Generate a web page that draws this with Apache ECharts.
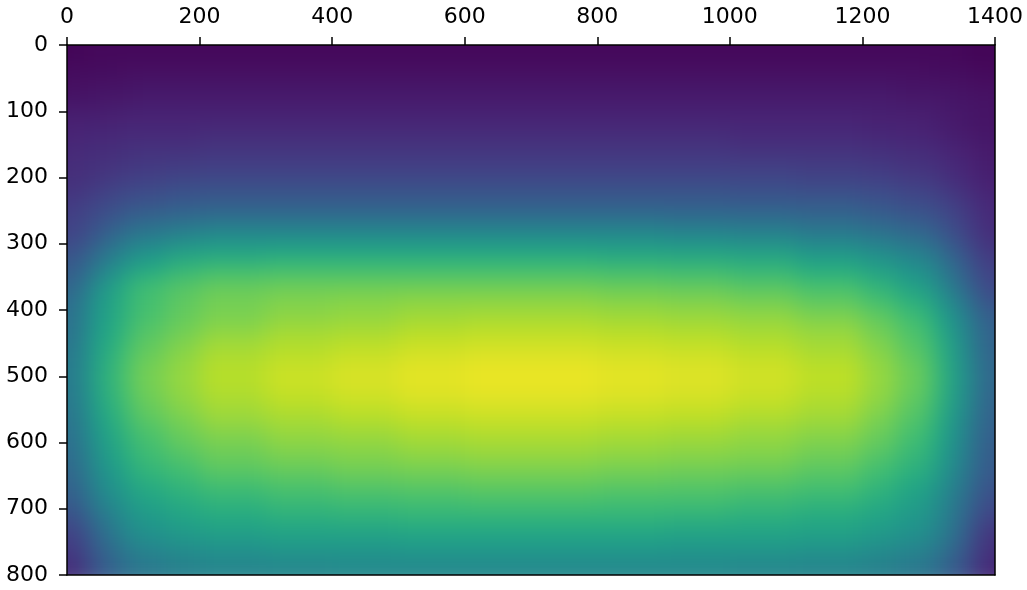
<!DOCTYPE html>
<html>
<head>
<meta charset="utf-8">
<script src="https://cdn.jsdelivr.net/npm/echarts@6/dist/echarts.min.js"></script>
<style>
  html, body { margin: 0; padding: 0; background: #fff; }
  #wrap { position: relative; width: 1027px; height: 590px; }
  /* the image layer is softened like matplotlib's interpolated imshow and clipped to the plot box */
  #clip { position: absolute; left: 67px; top: 45px; width: 928px; height: 530px; overflow: hidden; }
  #heat { position: absolute; left: -67px; top: -45px; width: 1027px; height: 590px; filter: blur(11px); }
  #chart { position: absolute; left: 0; top: 0; width: 1027px; height: 590px; }
</style>
</head>
<body>
<div id="wrap">
  <div id="clip"><div id="heat"></div></div>
  <div id="chart"></div>
</div>
<script>
// bin edges of the image (pixel columns / rows of the data)
const xEdges = [0, 25, 50, 75, 100, 150, 200, 300, 400, 500, 600, 700, 800, 900,
  1000, 1100, 1200, 1250, 1300, 1325, 1350, 1375, 1400];
const yEdges = [0, 25, 50, 75, 100, 125, 150, 175, 200, 225, 250, 275, 300, 325,
  350, 375, 400, 425, 450, 475, 500, 525, 550, 575, 600, 625, 650, 675, 700,
  725, 750, 775, 800];
const xTicks = [0, 200, 400, 600, 800, 1000, 1200, 1400];
const yTicks = [0, 100, 200, 300, 400, 500, 600, 700, 800];

// intensity (0-100), one row per y bin, one value per x bin
const intensity = [
  [1, 2, 2, 2, 2, 2, 2, 2, 2, 2, 2, 2, 2, 2, 2, 2, 2, 2, 2, 2, 1, 1],
  [3, 3, 3, 4, 4, 4, 4, 4, 4, 4, 4, 4, 4, 4, 4, 4, 4, 4, 3, 3, 3, 2],
  [4, 5, 5, 5, 6, 6, 6, 6, 6, 6, 6, 6, 6, 6, 6, 6, 6, 5, 5, 5, 4, 4],
  [6, 6, 7, 7, 8, 8, 8, 8, 8, 8, 8, 8, 8, 8, 8, 8, 8, 7, 7, 6, 6, 5],
  [9, 9, 9, 10, 10, 10, 10, 10, 10, 10, 10, 10, 10, 10, 10, 10, 9, 9, 8, 7, 6, 5],
  [10, 11, 11, 12, 12, 12, 13, 13, 13, 13, 13, 13, 13, 13, 12, 12, 11, 10, 9, 8, 7, 6],
  [12, 13, 13, 14, 15, 15, 16, 16, 16, 16, 16, 16, 16, 16, 15, 15, 14, 13, 12, 10, 9, 7],
  [13, 14, 15, 16, 17, 18, 19, 19, 19, 19, 19, 19, 19, 19, 19, 18, 17, 15, 14, 12, 10, 8],
  [14, 16, 18, 20, 21, 23, 24, 24, 24, 24, 24, 24, 24, 24, 23, 22, 21, 19, 17, 14, 12, 9],
  [17, 20, 22, 24, 26, 28, 29, 29, 29, 29, 29, 29, 29, 29, 28, 28, 26, 23, 21, 18, 15, 11],
  [19, 23, 26, 30, 33, 35, 37, 37, 37, 37, 37, 37, 37, 36, 36, 34, 31, 28, 25, 21, 17, 12],
  [20, 26, 32, 37, 41, 45, 48, 48, 48, 48, 48, 48, 48, 47, 45, 42, 39, 35, 30, 24, 19, 13],
  [25, 33, 39, 45, 51, 56, 58, 59, 59, 59, 59, 59, 58, 57, 56, 52, 48, 43, 37, 30, 23, 16],
  [29, 38, 46, 52, 59, 65, 68, 69, 69, 69, 69, 69, 68, 67, 65, 61, 56, 50, 43, 35, 27, 19],
  [32, 46, 54, 62, 69, 73, 76, 77, 77, 77, 77, 77, 76, 75, 73, 70, 64, 56, 48, 39, 30, 21],
  [36, 50, 57, 63, 70, 75, 79, 81, 82, 83, 83, 83, 82, 81, 79, 75, 70, 63, 54, 45, 36, 25],
  [37, 51, 58, 64, 71, 76, 80, 83, 84, 86, 87, 87, 86, 85, 84, 81, 76, 69, 60, 50, 41, 30],
  [38, 53, 60, 66, 74, 79, 84, 87, 88, 90, 91, 91, 90, 89, 87, 85, 79, 72, 63, 53, 43, 31],
  [40, 54, 62, 69, 76, 82, 87, 89, 91, 93, 94, 94, 93, 92, 90, 87, 82, 74, 65, 55, 44, 32],
  [41, 55, 64, 71, 79, 84, 89, 92, 94, 96, 97, 97, 96, 95, 93, 90, 84, 77, 67, 56, 46, 33],
  [41, 55, 64, 71, 79, 84, 89, 92, 94, 96, 97, 97, 96, 95, 93, 90, 84, 77, 67, 56, 46, 33],
  [40, 54, 63, 69, 77, 83, 87, 90, 92, 94, 95, 95, 94, 93, 91, 88, 83, 75, 66, 55, 45, 32],
  [39, 52, 61, 67, 75, 80, 85, 87, 89, 91, 92, 92, 91, 90, 88, 86, 80, 73, 63, 53, 43, 31],
  [37, 50, 58, 64, 71, 77, 81, 84, 85, 87, 88, 88, 87, 86, 84, 82, 77, 70, 61, 51, 41, 30],
  [36, 48, 56, 62, 69, 74, 78, 81, 82, 84, 85, 85, 84, 83, 82, 79, 74, 67, 59, 49, 40, 29],
  [34, 46, 53, 59, 66, 70, 75, 77, 79, 80, 81, 81, 80, 79, 78, 75, 70, 64, 56, 47, 38, 28],
  [32, 43, 50, 55, 62, 66, 70, 72, 74, 75, 76, 76, 75, 74, 73, 71, 66, 60, 52, 44, 36, 26],
  [29, 40, 47, 52, 58, 62, 65, 68, 69, 70, 71, 71, 70, 70, 68, 66, 62, 56, 49, 41, 33, 23],
  [24, 35, 42, 48, 54, 58, 61, 63, 64, 65, 65, 65, 65, 64, 63, 61, 58, 53, 47, 39, 30, 20],
  [19, 30, 38, 45, 50, 54, 56, 58, 58, 59, 59, 59, 59, 58, 58, 57, 54, 50, 44, 37, 27, 15],
  [17, 27, 34, 40, 45, 48, 50, 52, 52, 53, 53, 53, 53, 52, 52, 51, 48, 45, 40, 33, 24, 14],
  [13, 24, 30, 36, 40, 43, 45, 46, 47, 47, 47, 47, 47, 47, 46, 45, 43, 40, 35, 29, 22, 11]
];

const viridis = ['#440154', '#482475', '#414487', '#355f8d', '#2a788e', '#21918c',
  '#22a884', '#44bf70', '#7ad151', '#bddf26', '#fde725'];

const cells = [];
intensity.forEach((row, r) => {
  row.forEach((v, c) => {
    cells.push([xEdges[c], xEdges[c + 1], yEdges[r], yEdges[r + 1], v]);
  });
});

const gridBox = { left: 67, right: 32, top: 45, bottom: 15, outerBoundsMode: 'none' };
const labelStyle = { fontFamily: 'DejaVu Sans', fontSize: 22, color: '#000' };
const lineStyle = { color: '#000', width: 1.5 };
const BLEED = 40; // edge cells run past the plot box so the blur does not fade the borders

function renderCell(params, api) {
  const box = params.coordSys;
  const a = api.coord([api.value(0), api.value(2)]);
  const b = api.coord([api.value(1), api.value(3)]);
  let x0 = Math.round(Math.min(a[0], b[0]));
  let x1 = Math.round(Math.max(a[0], b[0]));
  let y0 = Math.round(Math.min(a[1], b[1]));
  let y1 = Math.round(Math.max(a[1], b[1]));
  if (x0 <= box.x + 1) x0 -= BLEED;
  if (x1 >= box.x + box.width - 1) x1 += BLEED;
  if (y0 <= box.y + 1) y0 -= BLEED;
  if (y1 >= box.y + box.height - 1) y1 += BLEED;
  return {
    type: 'rect',
    shape: { x: x0, y: y0, width: x1 - x0, height: y1 - y0 },
    style: { fill: api.visual('color') }
  };
}

// image layer
const heat = echarts.init(document.getElementById('heat'));
heat.setOption({
  animation: false,
  grid: gridBox,
  visualMap: {
    show: false,
    type: 'continuous',
    min: 0,
    max: 100,
    dimension: 4,
    inRange: { color: viridis }
  },
  xAxis: { type: 'value', min: 0, max: 1400, show: false },
  yAxis: { type: 'value', min: 0, max: 800, inverse: true, show: false },
  series: [{
    type: 'custom',
    renderItem: renderCell,
    encode: { x: [0, 1], y: [2, 3] },
    data: cells,
    clip: false
  }]
});

// axes and frame layer
const chart = echarts.init(document.getElementById('chart'));
chart.setOption({
  animation: false,
  grid: gridBox,
  xAxis: [
    {
      type: 'value', position: 'top', min: xTicks[0], max: xTicks[xTicks.length - 1],
      interval: xTicks[1] - xTicks[0], z: 10,
      axisLine: { show: true, onZero: false, lineStyle },
      axisTick: { show: true, length: 8, lineStyle },
      axisLabel: { ...labelStyle, margin: 17, showMinLabel: true, showMaxLabel: true,
        formatter: (v) => String(v) },
      splitLine: { show: false }
    },
    {
      type: 'value', position: 'bottom', min: 0, max: 1400, z: 10,
      axisLine: { show: true, onZero: false, lineStyle },
      axisTick: { show: false }, axisLabel: { show: false }, splitLine: { show: false }
    }
  ],
  yAxis: [
    {
      type: 'value', position: 'left', inverse: true, min: yTicks[0], max: yTicks[yTicks.length - 1],
      interval: yTicks[1] - yTicks[0], z: 10,
      axisLine: { show: true, onZero: false, lineStyle },
      axisTick: { show: true, length: 8, lineStyle },
      axisLabel: { ...labelStyle, margin: 19, showMinLabel: true, showMaxLabel: true,
        formatter: (v) => String(v) },
      splitLine: { show: false }
    },
    {
      type: 'value', position: 'right', min: 0, max: 800, z: 10,
      axisLine: { show: true, onZero: false, lineStyle },
      axisTick: { show: false }, axisLabel: { show: false }, splitLine: { show: false }
    }
  ],
  series: []
});
</script>
</body>
</html>
